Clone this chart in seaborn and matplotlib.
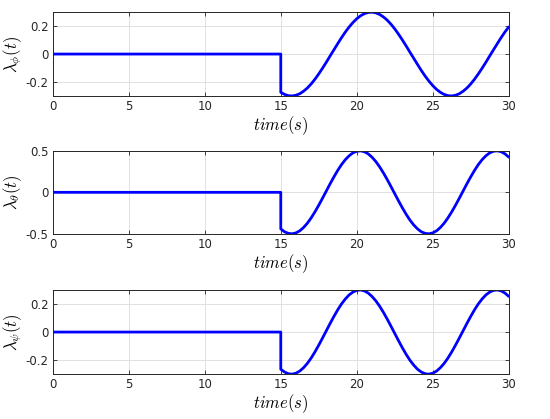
import matplotlib
matplotlib.use("Agg")
import matplotlib.pyplot as plt
import seaborn as sns

# time points (jump at 15 s)
t = [0, 15, 15, 15.25, 15.5, 15.75, 16, 16.25, 16.5, 16.75, 17, 17.25, 17.5, 17.75,
     18, 18.25, 18.5, 18.75, 19, 19.25, 19.5, 19.75, 20, 20.25, 20.5, 20.75,
     21, 21.25, 21.5, 21.75, 22, 22.25, 22.5, 22.75, 23, 23.25, 23.5, 23.75,
     24, 24.25, 24.5, 24.75, 25, 25.25, 25.5, 25.75, 26, 26.25, 26.5, 26.75,
     27, 27.25, 27.5, 27.75, 28, 28.25, 28.5, 28.75, 29, 29.25, 29.5, 29.75, 30]

lam_phi = [0, 0, -0.274, -0.289, -0.298, -0.300, -0.295, -0.284, -0.266, -0.243,
           -0.214, -0.180, -0.142, -0.101, -0.058, -0.013, 0.031, 0.075, 0.118,
           0.158, 0.194, 0.226, 0.253, 0.274, 0.289, 0.298, 0.300, 0.295, 0.284,
           0.266, 0.243, 0.214, 0.180, 0.142, 0.101, 0.058, 0.013, -0.031, -0.075,
           -0.118, -0.158, -0.194, -0.226, -0.253, -0.274, -0.289, -0.298, -0.300,
           -0.295, -0.284, -0.266, -0.243, -0.214, -0.180, -0.142, -0.101, -0.058,
           -0.013, 0.031, 0.075, 0.118, 0.158, 0.194]

lam_theta = [0, 0, -0.441, -0.476, -0.495, -0.500, -0.489, -0.464, -0.424, -0.372,
             -0.308, -0.235, -0.155, -0.070, 0.017, 0.104, 0.187, 0.265, 0.335,
             0.394, 0.441, 0.476, 0.495, 0.500, 0.489, 0.464, 0.424, 0.372, 0.308,
             0.235, 0.155, 0.070, -0.017, -0.104, -0.187, -0.265, -0.335, -0.394,
             -0.441, -0.476, -0.495, -0.500, -0.489, -0.464, -0.424, -0.372, -0.308,
             -0.235, -0.155, -0.070, 0.017, 0.104, 0.187, 0.265, 0.335, 0.394,
             0.441, 0.476, 0.495, 0.500, 0.489, 0.464, 0.424]

lam_psi = [0, 0, -0.265, -0.285, -0.297, -0.300, -0.293, -0.278, -0.254, -0.223,
           -0.185, -0.141, -0.093, -0.042, 0.010, 0.062, 0.112, 0.159, 0.201,
           0.236, 0.265, 0.285, 0.297, 0.300, 0.293, 0.278, 0.254, 0.223, 0.185,
           0.141, 0.093, 0.042, -0.010, -0.062, -0.112, -0.159, -0.201, -0.236,
           -0.265, -0.285, -0.297, -0.300, -0.293, -0.278, -0.254, -0.223, -0.185,
           -0.141, -0.093, -0.042, 0.010, 0.062, 0.112, 0.159, 0.201, 0.236,
           0.265, 0.285, 0.297, 0.300, 0.293, 0.278, 0.254]

series = [lam_phi, lam_theta, lam_psi]
ylabels = [r'$\lambda_{\phi}(t)$', r'$\lambda_{\theta}(t)$', r'$\lambda_{\psi}(t)$']
ylims = [(-0.3, 0.3), (-0.5, 0.5), (-0.3, 0.3)]
yticks = [[-0.2, 0, 0.2], [-0.5, 0, 0.5], [-0.2, 0, 0.2]]
yticklabels = [['-0.2', '0', '0.2'], ['-0.5', '0', '0.5'], ['-0.2', '0', '0.2']]
xticks = [0, 5, 10, 15, 20, 25, 30]

sns.set_theme(style="white")
plt.rcParams['font.family'] = ['DejaVu Sans']
plt.rcParams['mathtext.fontset'] = 'cm'

fig = plt.figure(figsize=(5.5, 4.19), dpi=100)
boxes = [(0.096, 0.771, 0.829, 0.200),
         (0.096, 0.442, 0.829, 0.198),
         (0.096, 0.107, 0.829, 0.201)]

for i, (b, y) in enumerate(zip(boxes, series)):
    ax = fig.add_axes(b)
    sns.lineplot(x=t, y=y, estimator=None, sort=False, ax=ax,
                 color=(0, 0, 1), linewidth=2.0)
    ax.set_xlim(0, 30)
    ax.set_ylim(*ylims[i])
    ax.set_xticks(xticks)
    ax.set_xticklabels([str(x) for x in xticks])
    ax.set_yticks(yticks[i])
    ax.set_yticklabels(yticklabels[i])
    ax.grid(True, color='#dcdcdc', linewidth=0.6)
    ax.set_axisbelow(True)
    for s in ax.spines.values():
        s.set_color('#262626')
        s.set_linewidth(0.7)
    ax.tick_params(direction='in', length=3, width=0.6, colors='#262626',
                   labelsize=8.5, top=True, right=True, bottom=True, left=True,
                   pad=3)
    ax.set_xlabel(r'$time(s)$', fontsize=12, labelpad=1, color='black')
    ax.set_ylabel(ylabels[i], fontsize=12, labelpad=1, color='black')

fig.savefig("out.png", dpi=100)
